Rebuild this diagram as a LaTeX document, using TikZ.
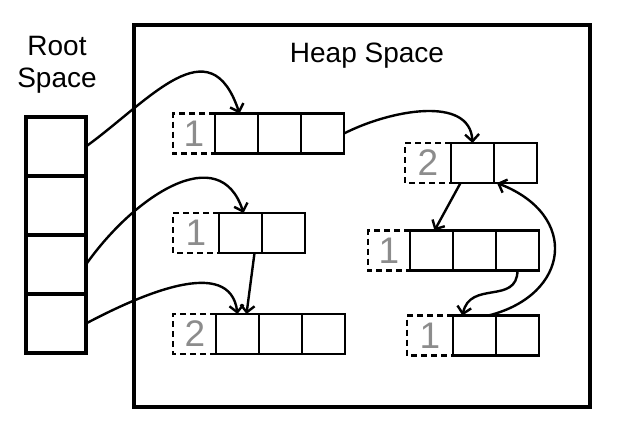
\documentclass[tikz,border=0pt]{standalone}
\usepackage{fontspec}
\setmainfont{Liberation Sans}
\usetikzlibrary{positioning, arrows.meta}
\definecolor{countgray}{RGB}{140, 140, 140}

\tikzset{
    slot/.style={draw, line width=2.4pt, minimum width=43pt,
                 minimum height=40pt, inner sep=0pt, outer sep=0pt},
    rootslot/.style={draw, line width=4pt, minimum width=60pt,
                     minimum height=59pt, inner sep=0pt, outer sep=0pt},
    refbox/.style={line width=2.2pt, dash pattern=on 6pt off 4pt},
    refcount/.style={font=\fontsize{37}{40}\selectfont, text=countgray,
                     inner sep=0pt},
    ptr/.style={line width=2.4pt, -{Straight Barb[length=7pt, width=14pt]}},
    spacename/.style={font=\fontsize{28}{32}\selectfont, align=center,
                      inner sep=0pt},
}

\begin{document}
\begin{tikzpicture}[x=1pt, y=-1pt]
    \useasboundingbox (0,0) rectangle (630,432);

    % root space
    \node[spacename] (rootname) at (57,65) {Root\\Space};
    \node[rootslot] (r1) at (56,146.5) {};
    \node[rootslot, below=0pt of r1] (r2) {};
    \node[rootslot, below=0pt of r2] (r3) {};
    \node[rootslot, below=0pt of r3] (r4) {};

    % heap space
    \node[draw, line width=4pt, minimum width=456pt, minimum height=382pt,
          inner sep=0pt] (heap) at (362,216) {};
    \node[spacename, anchor=base] (heapname) at (367,62) {Heap Space};

    \node[slot] (a1) at (236.5,133.5) {};
    \node[slot, right=0pt of a1] (a2) {};
    \node[slot, right=0pt of a2] (a3) {};
    \draw[refbox] (a1.north west) -- ++(-42,0) -- ++(0,40) -- ++(42,0);
    \node[refcount] (a-rc) at ([xshift=-21pt]a1.west) {1};

    \node[slot] (b1) at (472.5,163) {};
    \node[slot, right=0pt of b1] (b2) {};
    \draw[refbox] (b1.north west) -- ++(-46,0) -- ++(0,40) -- ++(46,0);
    \node[refcount] (b-rc) at ([xshift=-23pt]b1.west) {2};

    \node[slot] (c1) at (240.5,233) {};
    \node[slot, right=0pt of c1] (c2) {};
    \draw[refbox] (c1.north west) -- ++(-46,0) -- ++(0,40) -- ++(46,0);
    \node[refcount] (c-rc) at ([xshift=-23pt]c1.west) {1};

    \node[slot] (d1) at (431.5,250.5) {};
    \node[slot, right=0pt of d1] (d2) {};
    \node[slot, right=0pt of d2] (d3) {};
    \draw[refbox] (d1.north west) -- ++(-42,0) -- ++(0,40) -- ++(42,0);
    \node[refcount] (d-rc) at ([xshift=-21pt]d1.west) {1};

    \node[slot] (e1) at (237.5,334) {};
    \node[slot, right=0pt of e1] (e2) {};
    \node[slot, right=0pt of e2] (e3) {};
    \draw[refbox] (e1.north west) -- ++(-43,0) -- ++(0,40) -- ++(43,0);
    \node[refcount] (e-rc) at ([xshift=-21pt]e1.west) {2};

    \node[slot] (f1) at (474.5,335.5) {};
    \node[slot, right=0pt of f1] (f2) {};
    \draw[refbox] (f1.north west) -- ++(-46,0) -- ++(0,40) -- ++(46,0);
    \node[refcount] (f-rc) at ([xshift=-23pt]f1.west) {1};

    % pointers
    \draw[ptr] (r1.east) .. controls (150,100) and (210,25)
        .. ([xshift=3pt]a1.north);
    \draw[ptr] (r3.east) .. controls (135,195) and (220,140)
        .. ([xshift=3pt]c1.north);
    \draw[ptr] (r4.east) .. controls (140,295) and (230,255) .. (e1.north);
    \draw[ptr] ([xshift=14pt]c1.south) -- ([xshift=9pt]e1.north);
    \draw[ptr] (a3.east) .. controls (390,110) and (470,95) .. (b1.north);
    \draw[ptr] ([xshift=-12pt]b1.south) -- ([xshift=3pt]d1.north);
    \draw[ptr] (d3.south) .. controls (517,305) and (470,280)
        .. ([xshift=-12pt]f1.north);
    \draw[ptr] ([xshift=14pt]f1.north) .. controls (570,295) and (580,215)
        .. ([xshift=3pt]b2.south west);
\end{tikzpicture}
\end{document}
